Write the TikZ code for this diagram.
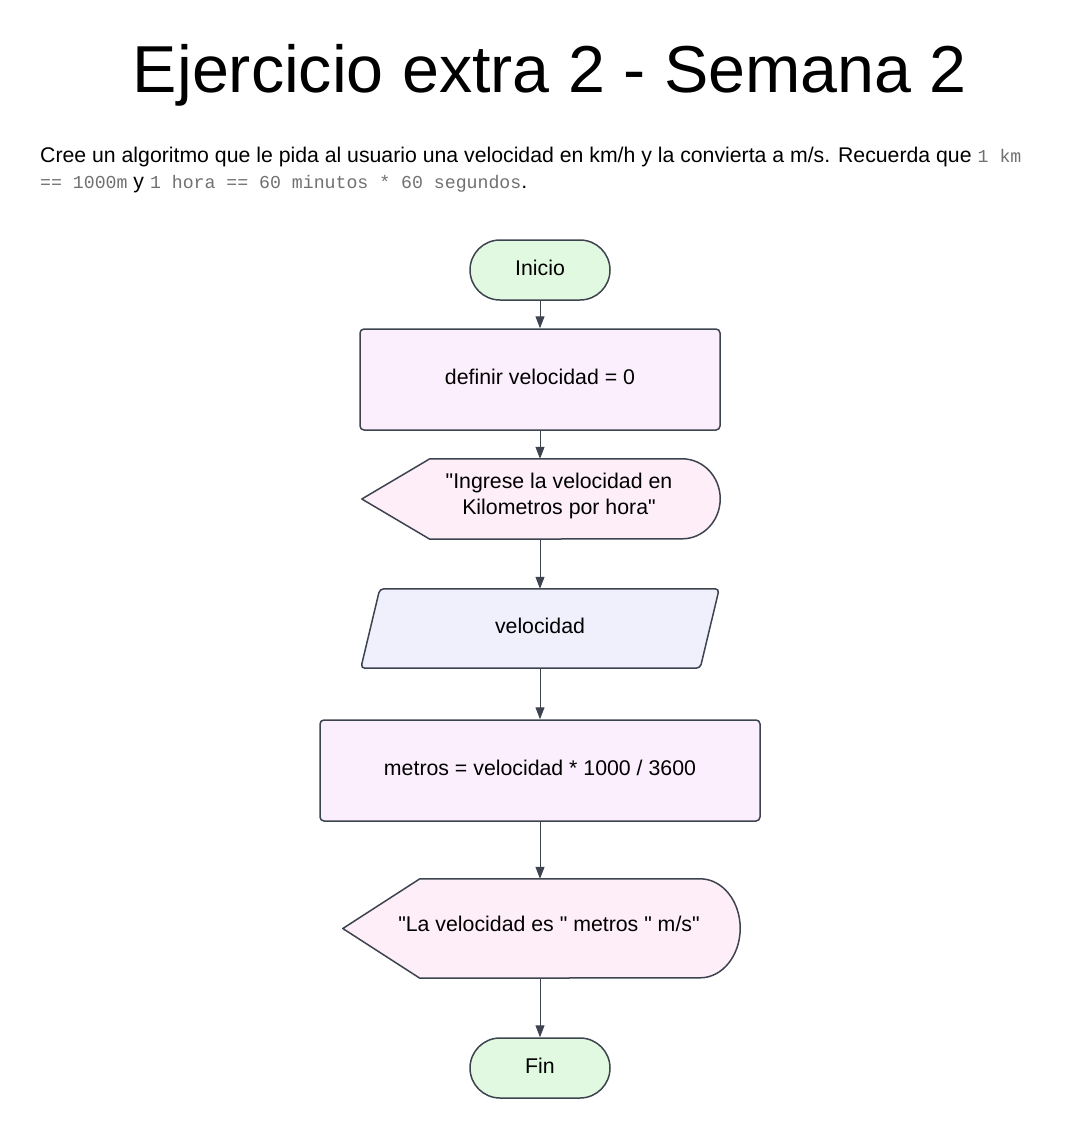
\documentclass[tikz,border=0pt]{standalone}
\usepackage{fontspec}
\setmainfont{Liberation Sans}[Ligatures=TeXOff]
\newfontfamily\monof{Liberation Mono}[Ligatures=TeXOff]
\usetikzlibrary{calc,arrows.meta}
\definecolor{edge}{HTML}{3D434F}
\definecolor{termfill}{HTML}{E0F9E0}
\definecolor{procfill}{HTML}{FBEFFD}
\definecolor{dispfill}{HTML}{FDEEF8}
\definecolor{iofill}{HTML}{EFF0FC}
\definecolor{codegray}{HTML}{707070}
\tikzset{
  shapeline/.style={draw=edge,line width=1.5pt,line join=round},
  txt/.style={font=\fontsize{21.3}{25.5}\selectfont,align=center,inner sep=0pt},
  term/.style={shapeline,fill=termfill,rounded corners=30pt,minimum width=140pt,minimum height=60pt,txt},
  proc/.style={shapeline,fill=procfill,rounded corners=4pt,minimum height=101pt,txt},
  flow/.style={draw=edge,line width=1pt,-{Triangle[length=12pt,width=9pt]}},
}
\newcommand{\codetxt}[1]{{\monof\fontsize{18.2}{21}\selectfont\color{codegray}#1}}
\begin{document}
\begin{tikzpicture}[x=1pt,y=-1pt]
\useasboundingbox (0,0) rectangle (1081,1138);
\node[font=\fontsize{66.4}{78}\selectfont,inner sep=0pt] (title) at (550,75) {Ejercicio extra 2 - Semana 2};
\node[anchor=base west,inner sep=0pt,font=\fontsize{21.25}{25}\selectfont] (desc1) at (40,162)
  {Cree un algoritmo que le pida al usuario una velocidad en km/h y la convierta a m/s. Recuerda que \codetxt{1 km}};
\node[anchor=base west,inner sep=0pt,font=\fontsize{21.25}{25}\selectfont] (desc2) at (40,188)
  {\codetxt{== 1000m} y \codetxt{1 hora == 60 minutos * 60 segundos}.};

\node[term] (ini) at (540,270) {};
\node[txt] at (540,268) {Inicio};
\node[proc,minimum width=360pt,minimum height=101pt] (def) at (540,379.5) {};
\node[txt] at (540,377) {definir velocidad = 0};

% display 1
\node[txt,minimum width=358pt,minimum height=80pt] (d1) at (541,499) {};
\draw[shapeline,fill=dispfill] (d1.west) -- ($(d1.north west)+(68,0)$) -- ($(d1.north east)+(-38,0)$)
  arc[start angle=90,end angle=-90,x radius=38,y radius=-40] -- ($(d1.south west)+(68,0)$) -- cycle;
\node[txt] at (559,496) {"Ingrese la velocidad en\\Kilometros por hora"};

% input
\node[txt,minimum width=358pt,minimum height=79pt] (in) at (540,628.5) {};
\draw[shapeline,fill=iofill,rounded corners=4pt] ($(in.north west)+(19,0)$) -- (in.north east) -- ($(in.south east)+(-19,0)$) -- (in.south west) -- cycle;
\node[txt] at (540,626) {velocidad};

\node[proc,minimum width=440pt,minimum height=101pt] (calc) at (540,770.5) {};
\node[txt] at (540,768) {metros = velocidad * 1000 / 3600};

% display 2
\node[txt,minimum width=397pt,minimum height=99pt] (d2) at (541.5,928.5) {};
\draw[shapeline,fill=dispfill] (d2.west) -- ($(d2.north west)+(77,0)$) -- ($(d2.north east)+(-40,0)$)
  arc[start angle=90,end angle=-90,x radius=40,y radius=-49.5] -- ($(d2.south west)+(77,0)$) -- cycle;
\node[txt] at (549,924) {"La velocidad es " metros " m/s"};

\node[term] (fin) at (540,1068) {};
\node[txt] at (540,1066) {Fin};

\draw[flow] (ini.south) -- (def.north);
\draw[flow] (def.south) -- (d1.north -| def.south);
\draw[flow] (d1.south -| def.south) -- (in.north -| def.south);
\draw[flow] (in.south -| def.south) -- (calc.north);
\draw[flow] (calc.south) -- (d2.north -| calc.south);
\draw[flow] (d2.south -| calc.south) -- (fin.north);
\end{tikzpicture}
\end{document}
